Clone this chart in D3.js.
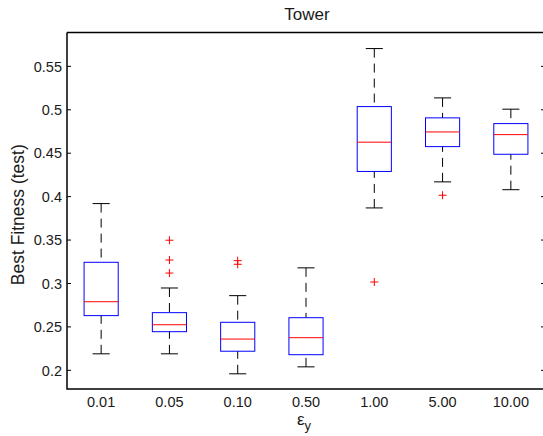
<!DOCTYPE html>
<html>
<head>
<meta charset="utf-8">
<script src="https://cdn.jsdelivr.net/npm/d3@7"></script>
<style>
  body { margin: 0; background: #fff; }
  text { font-family: "Liberation Sans", Arial, sans-serif; fill: #1a1a1a; }
</style>
</head>
<body>
<div id="chart"></div>
<script>
const width = 543,
      height = 436;

// categories (epsilon_y)
const categories = ['0.01', '0.05', '0.10', '0.50', '1.00', '5.00', '10.00'];
// box stats
const lowerWhisker = [0.219, 0.219, 0.196, 0.204, 0.387, 0.417, 0.408];
const q1           = [0.263, 0.2445, 0.222, 0.218, 0.429, 0.4576, 0.4488];
const medians      = [0.279, 0.2525, 0.236, 0.2376, 0.4627, 0.4745, 0.4714];
const q3           = [0.3244, 0.2664, 0.2553, 0.2606, 0.5037, 0.4907, 0.4841];
const upperWhisker = [0.392, 0.2948, 0.286, 0.318, 0.5705, 0.5137, 0.5007];
const outliers = [
  [],
  [0.3498, 0.327, 0.312],
  [0.3263, 0.3221],
  [],
  [0.3017],
  [0.4016],
  []
];
const yTicks = [0.2, 0.25, 0.3, 0.35, 0.4, 0.45, 0.5, 0.55];

const margin = {left: 67, top: 32.5, right: -2, bottom: 47};

const svg = d3.select("#chart").append("svg")
  .attr("width", width)
  .attr("height", height);

// positions 1..7 with xlim [0.5, 7.5] like matlab boxplot
const x = d3.scaleLinear()
  .domain([0.5, categories.length + 0.5])
  .range([margin.left, width - margin.right]);

const y = d3.scaleLinear()
  .domain([0.1785, 0.589])
  .range([height - margin.bottom, margin.top]);

const boxW = 0.25;   // half width in x units
const capW = 0.125;

const g = svg.append("g");

categories.forEach((c, i) => {
  const cx = i + 1;
  // whiskers
  g.append("line")
    .attr("x1", x(cx)).attr("x2", x(cx))
    .attr("y1", y(upperWhisker[i])).attr("y2", y(q3[i]))
    .attr("stroke", "#000").attr("stroke-width", 1)
    .attr("stroke-dasharray", "9,6");
  g.append("line")
    .attr("x1", x(cx)).attr("x2", x(cx))
    .attr("y1", y(lowerWhisker[i])).attr("y2", y(q1[i]))
    .attr("stroke", "#000").attr("stroke-width", 1)
    .attr("stroke-dasharray", "9,6");
  // caps
  [upperWhisker[i], lowerWhisker[i]].forEach(v => {
    g.append("line")
      .attr("x1", x(cx - capW)).attr("x2", x(cx + capW))
      .attr("y1", y(v)).attr("y2", y(v))
      .attr("stroke", "#000").attr("stroke-width", 1);
  });
  // box
  g.append("rect")
    .attr("x", x(cx - boxW))
    .attr("y", y(q3[i]))
    .attr("width", x(cx + boxW) - x(cx - boxW))
    .attr("height", y(q1[i]) - y(q3[i]))
    .attr("fill", "none")
    .attr("stroke", "#0000ff").attr("stroke-width", 1);
  // median
  g.append("line")
    .attr("x1", x(cx - boxW)).attr("x2", x(cx + boxW))
    .attr("y1", y(medians[i])).attr("y2", y(medians[i]))
    .attr("stroke", "#ff0000").attr("stroke-width", 1);
  // outliers
  outliers[i].forEach(v => {
    g.append("path")
      .attr("d", `M${x(cx) - 4},${y(v)}h8M${x(cx)},${y(v) - 4}v8`)
      .attr("stroke", "#ff0000").attr("stroke-width", 1);
  });
});

// axes frame: left, bottom, top
const x0 = x(0.5), x1 = x(categories.length + 0.5);
const y0 = y.range()[0], y1 = y.range()[1];
svg.append("path")
  .attr("d", `M${x0},${y1}H${x1}M${x0},${y1}V${y0}H${x1}M${x1},${y1}V${y0}`)
  .attr("fill", "none").attr("stroke", "#000").attr("stroke-width", 1.5);

// y ticks inside, both sides
yTicks.forEach(t => {
  svg.append("line")
    .attr("x1", x0).attr("x2", x0 + 4)
    .attr("y1", y(t)).attr("y2", y(t))
    .attr("stroke", "#000");
  svg.append("line")
    .attr("x1", x1 - 4).attr("x2", x1)
    .attr("y1", y(t)).attr("y2", y(t))
    .attr("stroke", "#000");
  svg.append("text")
    .attr("x", x0 - 5)
    .attr("y", y(t))
    .attr("dy", "0.36em")
    .attr("text-anchor", "end")
    .style("font-size", "14.5px")
    .text(d3.format("")(t));
});

// x tick labels
categories.forEach((c, i) => {
  svg.append("text")
    .attr("x", x(i + 1))
    .attr("y", y0 + 18)
    .attr("text-anchor", "middle")
    .style("font-size", "14.5px")
    .text(c);
});

// title
svg.append("text")
  .attr("x", (x0 + x1) / 2 + 1)
  .attr("y", 20)
  .attr("text-anchor", "middle")
  .style("font-size", "17px")
  .text("Tower");

// x label: epsilon with subscript y
const xl = svg.append("text")
  .attr("x", (x0 + x1) / 2 - 2)
  .attr("y", y0 + 36)
  .attr("text-anchor", "middle")
  .style("font-size", "17px");
xl.append("tspan").text("ε");
xl.append("tspan").attr("dy", 5).style("font-size", "13px").text("y");

// y label
svg.append("text")
  .attr("transform", `translate(24,${(y0 + y1) / 2 + 4}) rotate(-90)`)
  .attr("text-anchor", "middle")
  .style("font-size", "17.5px")
  .text("Best Fitness (test)");
</script>
</body>
</html>
